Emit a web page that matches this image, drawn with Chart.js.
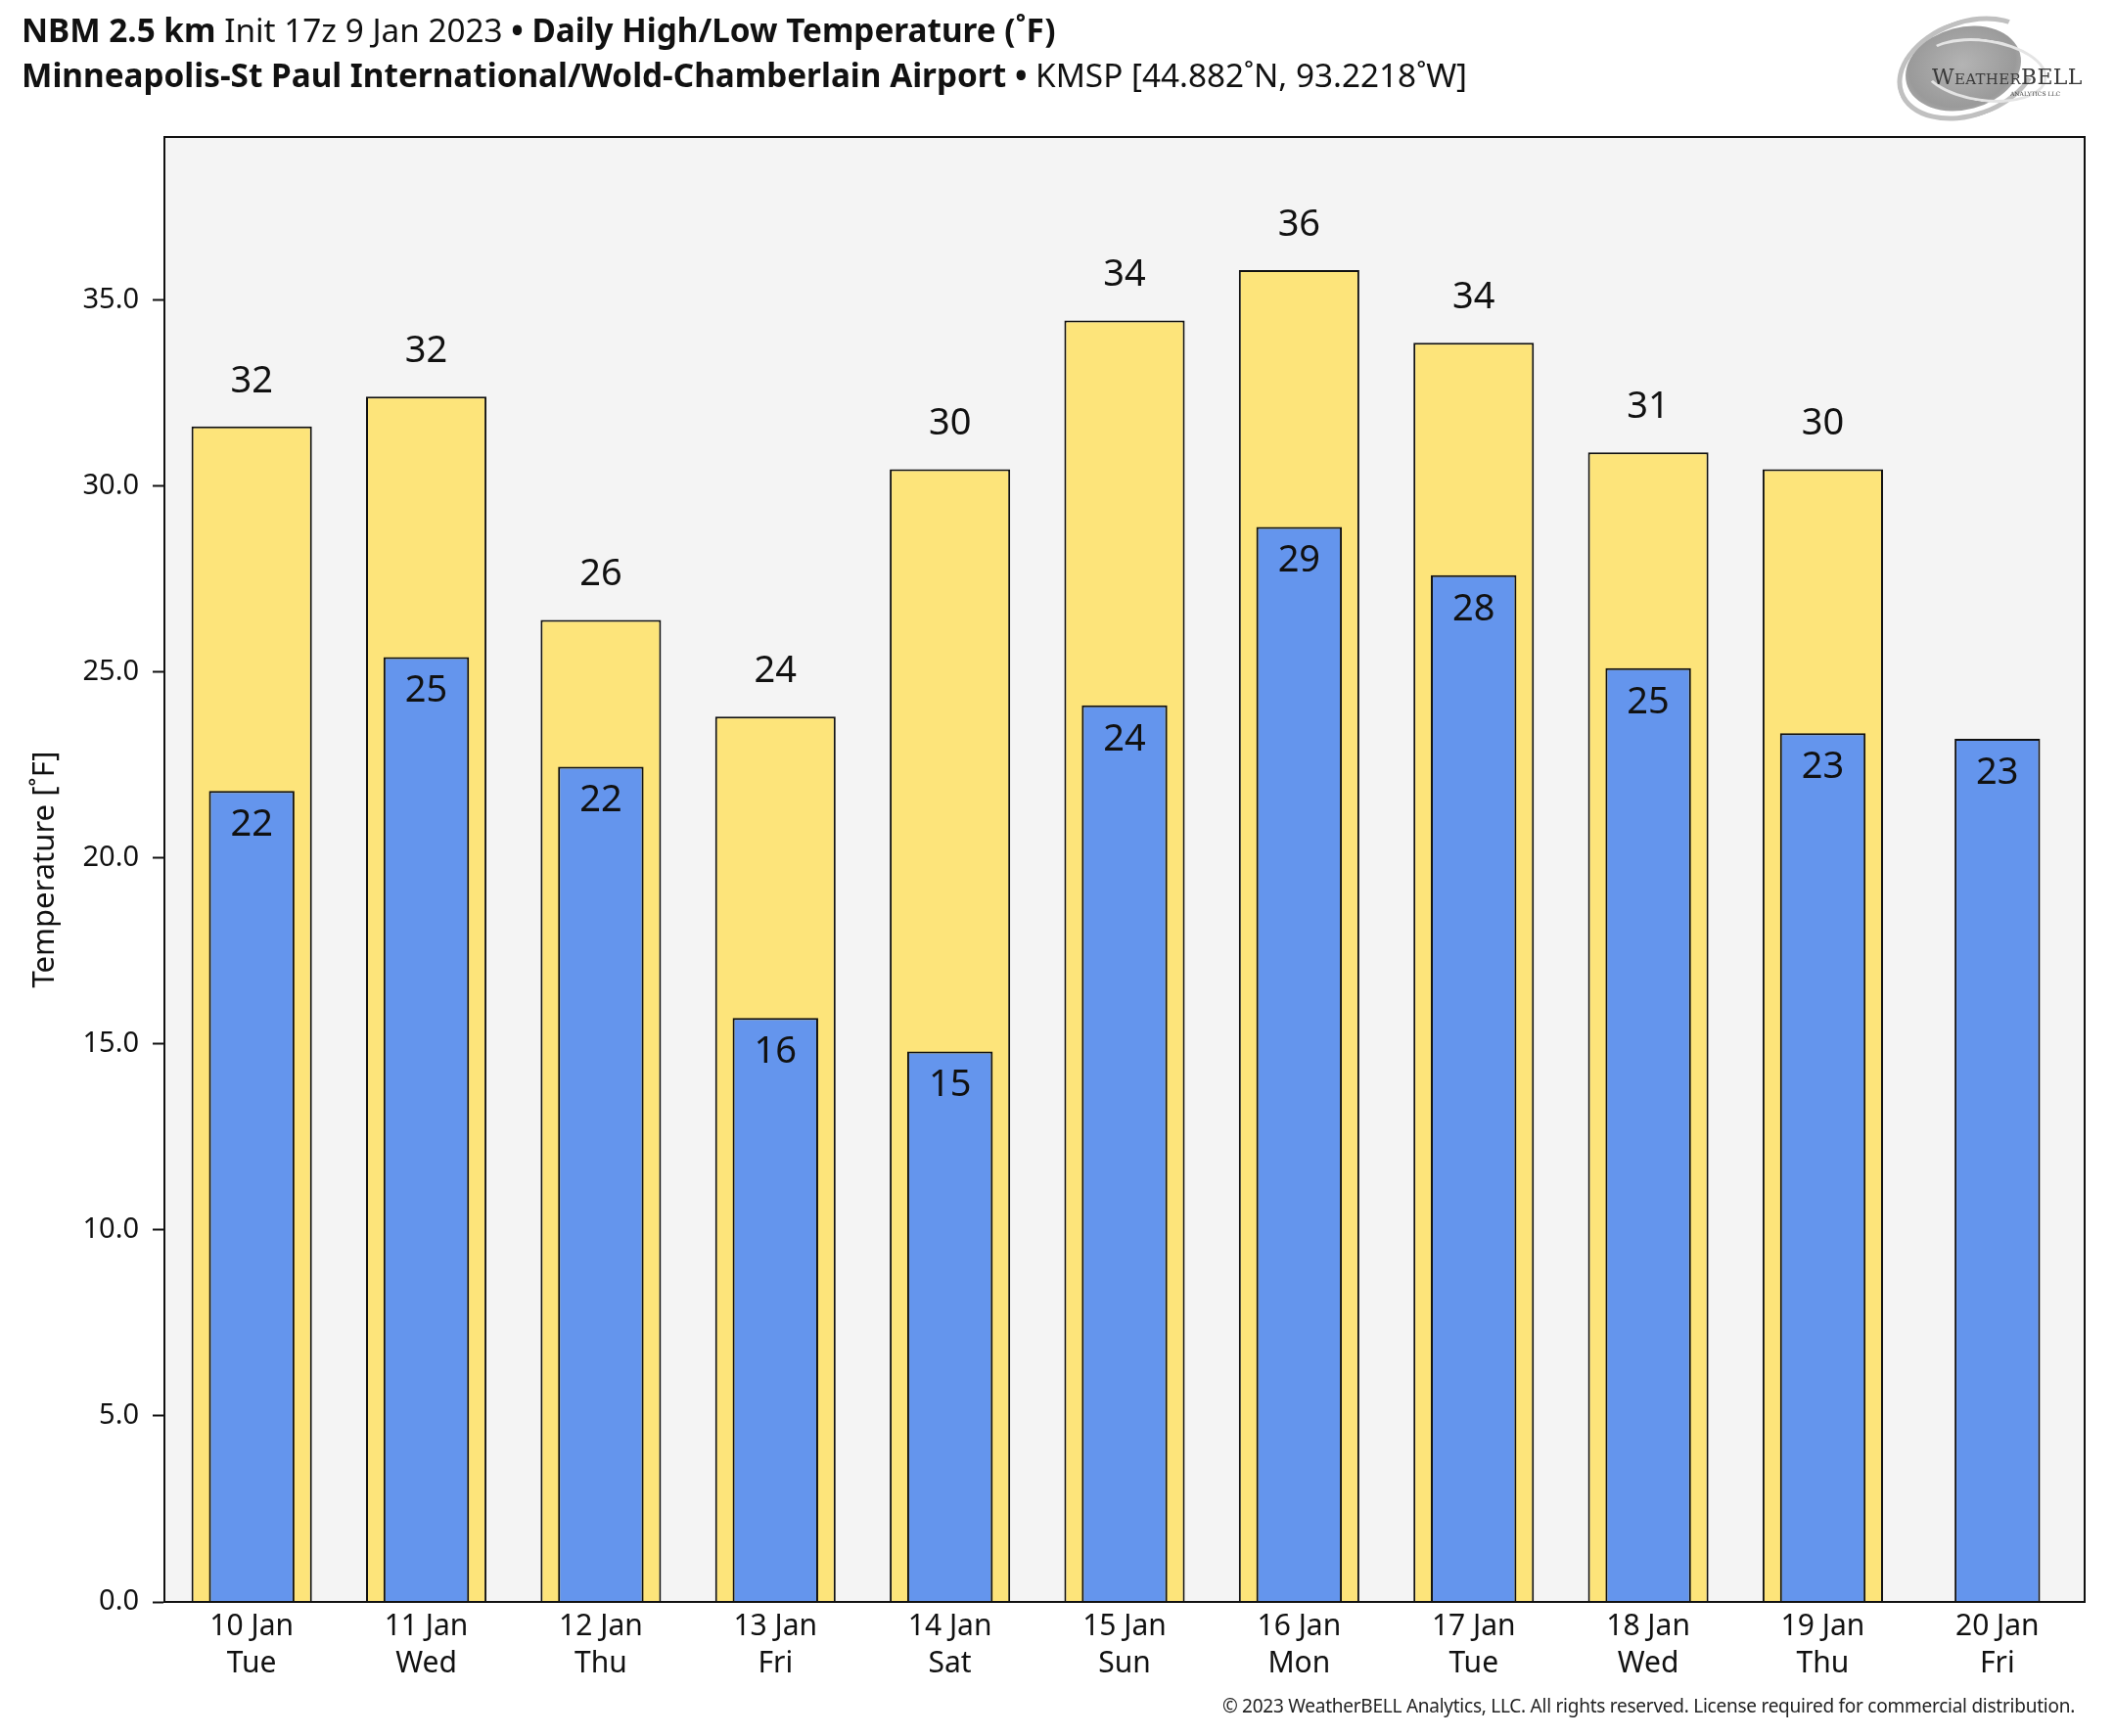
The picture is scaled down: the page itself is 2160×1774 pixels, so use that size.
<!DOCTYPE html>
<html>
<head>
<meta charset="utf-8">
<script src="https://cdn.jsdelivr.net/npm/chart.js@4.4.1/dist/chart.umd.min.js"></script>
<style>
  html, body { margin: 0; padding: 0; background: #ffffff; }
  #wrap { position: relative; width: 2160px; height: 1774px; overflow: hidden; background: #fff; }
  #chartBox { position: absolute; left: 0; top: 0; width: 2160px; height: 1774px; }
  .title { position: absolute; left: 22px; font-family: "Noto Sans", sans-serif; font-size: 33.3px; color: #111; white-space: nowrap; line-height: 1; }
  .title b { font-weight: 700; }
  #t1 { top: 14px; }
  #t2 { top: 60px; }
  #footer { position: absolute; right: 40px; top: 1730px; font-family: "Noto Sans", sans-serif; font-size: 19px; color: #222; white-space: nowrap; letter-spacing: -0.25px; }
  #logo { position: absolute; left: 1936px; top: 16px; width: 200px; height: 104px; }
  #logo .sw1 { position: absolute; left: 10px; top: 12px; width: 120px; height: 84px; border-radius: 50%; background: radial-gradient(ellipse at 50% 45%, #b4b4b4 0%, #9a9a9a 65%, #c8c8c8 100%); transform: rotate(-15deg); }
  #logo .sw2 { position: absolute; left: 0px; top: 4px; width: 150px; height: 100px; border-radius: 50%; border: 5px solid #c0c0c0; border-right-color: transparent; transform: rotate(-20deg); box-sizing: border-box; }
  #logo .sw3 { position: absolute; left: 26px; top: 24px; width: 130px; height: 64px; border-radius: 50%; border: 3px solid #e4e4e4; border-left-color: transparent; transform: rotate(8deg); box-sizing: border-box; }
  #logo .txt { position: absolute; left: 38px; top: 52px; font-family: "DejaVu Serif", "Liberation Serif", serif; color: #3a3a3a; font-size: 22px; white-space: nowrap; letter-spacing: 0.3px; line-height: 1; }
  #logo .txt .sc { font-size: 15px; }
  #logo .sub { position: absolute; left: 118px; top: 76px; font-family: "DejaVu Serif", serif; font-size: 6px; color: #444; white-space: nowrap; }
</style>
</head>
<body>
<div id="wrap">
  <div id="chartBox"><canvas id="c"></canvas></div>
  <div class="title" id="t1"><b>NBM 2.5 km</b> Init 17z 9 Jan 2023 <b>• Daily High/Low Temperature (˚F)</b></div>
  <div class="title" id="t2"><b>Minneapolis-St Paul International/Wold-Chamberlain Airport</b> <b>•</b> KMSP [44.882˚N, 93.2218˚W]</div>
  <div id="logo">
    <div class="sw2"></div>
    <div class="sw1"></div>
    <div class="sw3"></div>
    <div class="txt">W<span class="sc">EATHER</span>BELL</div>
    <div class="sub">ANALYTICS LLC</div>
  </div>
  <div id="footer">© 2023 WeatherBELL Analytics, LLC. All rights reserved. License required for commercial distribution.</div>
</div>
<script>
// ---- data ----
const dates = ['10 Jan', '11 Jan', '12 Jan', '13 Jan', '14 Jan', '15 Jan', '16 Jan', '17 Jan', '18 Jan', '19 Jan', '20 Jan'];
const weekdays = ['Tue', 'Wed', 'Thu', 'Fri', 'Sat', 'Sun', 'Mon', 'Tue', 'Wed', 'Thu', 'Fri'];
const highs = [31.6, 32.4, 26.4, 23.8, 30.45, 34.45, 35.8, 33.85, 30.9, 30.45, null];
const lows = [21.8, 25.4, 22.45, 15.7, 14.8, 24.1, 28.9, 27.6, 25.1, 23.35, 23.2];
const yTicks = [0, 5, 10, 15, 20, 25, 30, 35];
const yMax = 39.38;

const labels = dates.map((d, i) => [d, weekdays[i]]);
const FONT = '"Noto Sans", sans-serif';

const plotBg = {
  id: 'plotBg',
  beforeDatasetsDraw(chart) {
    const { ctx, chartArea: a } = chart;
    ctx.save();
    ctx.fillStyle = '#f4f4f4';
    ctx.fillRect(a.left, a.top, a.right - a.left, a.bottom - a.top);
    ctx.restore();
  },
  afterDraw(chart) {
    const { ctx, chartArea: a } = chart;
    ctx.save();
    ctx.strokeStyle = '#111';
    ctx.lineWidth = 2;
    ctx.strokeRect(a.left, a.top, a.right - a.left, a.bottom - a.top);
    ctx.restore();
  }
};

const valueLabels = {
  id: 'valueLabels',
  afterDatasetsDraw(chart) {
    const { ctx } = chart;
    ctx.save();
    ctx.font = '38px ' + FONT;
    ctx.fillStyle = '#111';
    ctx.textAlign = 'center';
    ctx.textBaseline = 'middle';
    chart.data.datasets.forEach((ds, di) => {
      const meta = chart.getDatasetMeta(di);
      meta.data.forEach((el, i) => {
        const v = ds.data[i];
        if (v === null || v === undefined) return;
        const txt = String(Math.round(v));
        const y = ds.labelPos === 'above' ? el.y - 46 : el.y + 35;
        ctx.fillText(txt, el.x, y);
      });
    });
    ctx.restore();
  }
};

new Chart(document.getElementById('c'), {
  type: 'bar',
  data: {
    labels: labels,
    datasets: [
      {
        label: 'Low', data: lows, order: 1, labelPos: 'inside',
        backgroundColor: '#6495ed', borderColor: '#111', borderWidth: 2, borderSkipped: 'bottom',
        barPercentage: 0.49, categoryPercentage: 1.0, grouped: false
      },
      {
        label: 'High', data: highs, order: 2, labelPos: 'above',
        backgroundColor: '#fde47a', borderColor: '#111', borderWidth: 2, borderSkipped: 'bottom',
        barPercentage: 0.69, categoryPercentage: 1.0, grouped: false
      }
    ]
  },
  options: {
    responsive: true,
    maintainAspectRatio: false,
    animation: false,
    devicePixelRatio: 1,
    layout: { padding: { top: 140, right: 30, left: 0, bottom: 0 } },
    plugins: { legend: { display: false }, tooltip: { enabled: false }, title: { display: false } },
    scales: {
      x: {
        offset: true,
        grid: { display: false, drawTicks: false },
        border: { display: true, color: '#111', width: 2 },
        ticks: { color: '#111', font: { family: FONT, size: 30, lineHeight: 1.25 }, padding: 7, maxRotation: 0, autoSkip: false },
        afterFit(scale) { scale.height = 137; }
      },
      y: {
        min: 0, max: yMax,
        grid: { display: true, drawOnChartArea: false, drawTicks: true, tickLength: 12, tickColor: '#111', tickWidth: 2 },
        border: { display: true, color: '#111', width: 2 },
        ticks: {
          color: '#111', font: { family: FONT, size: 29 }, padding: 14, includeBounds: false,
          stepSize: 5, callback: (v) => v.toFixed(1)
        },
        afterBuildTicks(scale) { scale.ticks = yTicks.map(v => ({ value: v })); },
        title: { display: true, text: 'Temperature [˚F]', color: '#111', font: { family: FONT, size: 31 }, padding: { top: 28, bottom: 0 } },
        afterFit(scale) { scale.width = 168; }
      }
    }
  },
  plugins: [plotBg, valueLabels]
});
</script>
</body>
</html>
